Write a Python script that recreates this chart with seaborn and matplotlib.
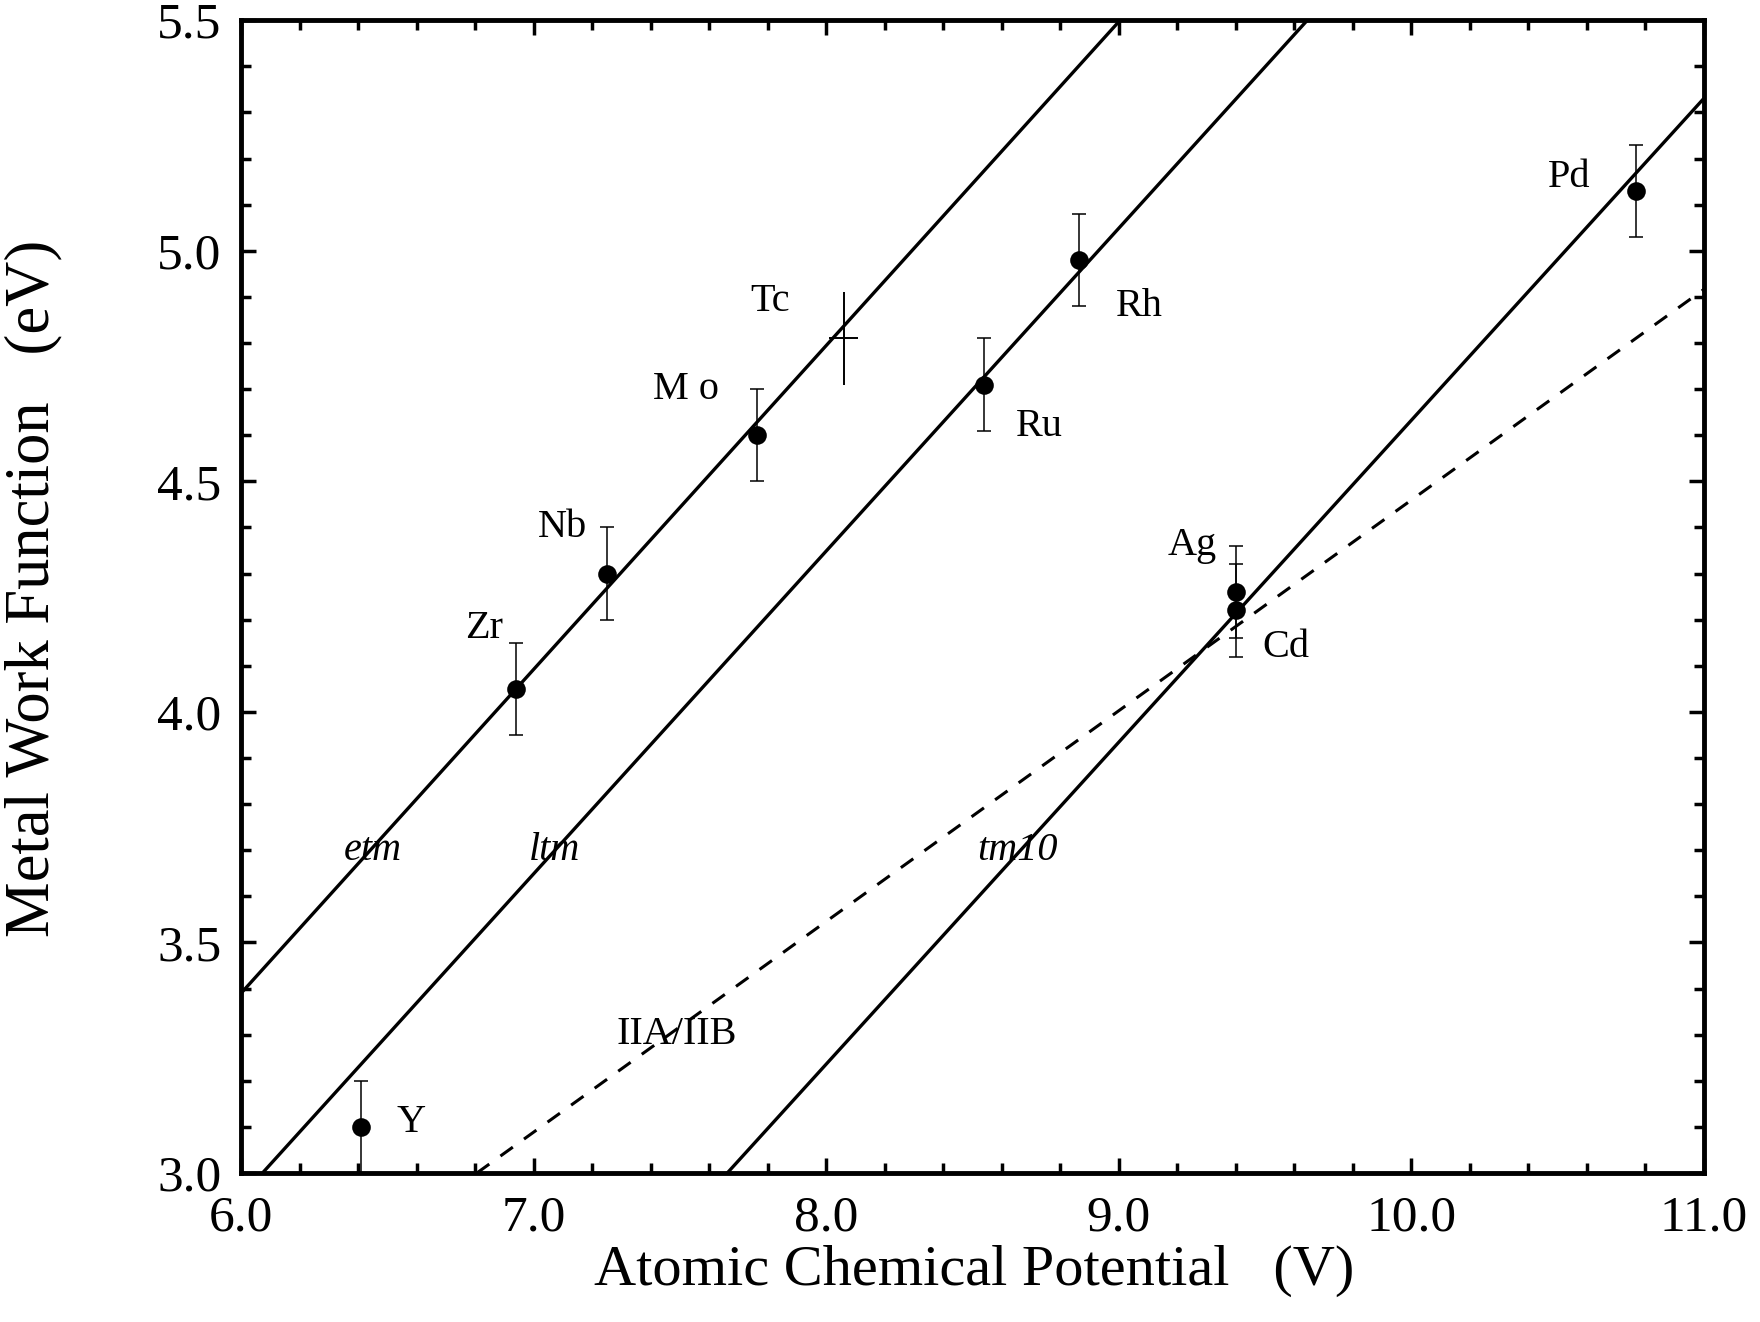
import numpy as np
import pandas as pd
import matplotlib
matplotlib.use("Agg")
import matplotlib.pyplot as plt
import seaborn as sns
from matplotlib.ticker import MultipleLocator, FormatStrFormatter

# element points
elements = ["Y", "Zr", "Nb", "Mo", "Ru", "Rh", "Ag", "Cd", "Pd"]
chem_pot = [6.41, 6.94, 7.25, 7.765, 8.54, 8.865, 9.40, 9.40, 10.77]
work_fn = [3.10, 4.05, 4.30, 4.60, 4.71, 4.98, 4.26, 4.22, 5.13]
err = [0.1, 0.1, 0.1, 0.1, 0.1, 0.1, 0.1, 0.1, 0.1]

# Tc is drawn as a cross (estimated value)
tc_x, tc_y, tc_err = 8.06, 4.81, 0.1

# label positions for the elements
lab_text = ["Y", "Zr", "Nb", "M o", "Tc", "Ru", "Rh", "Ag", "Cd", "Pd"]
lab_x = [6.58, 6.83, 7.10, 7.52, 7.81, 8.73, 9.07, 9.25, 9.57, 10.54]
lab_y = [3.11, 4.18, 4.40, 4.70, 4.89, 4.62, 4.88, 4.36, 4.14, 5.16]

# trend lines (end points)
etm_x, etm_y = [6.0, 9.005], [3.39, 5.5]
ltm_x, ltm_y = [6.073, 9.645], [3.0, 5.5]
tm10_x, tm10_y = [7.662, 11.0], [3.0, 5.33]
iia_x, iia_y = [6.806, 11.0], [3.0, 4.916]

line_names = ["etm", "ltm", "tm10", "IIA/IIB"]
line_lab_x = [6.45, 7.07, 8.655, 7.49]
line_lab_y = [3.70, 3.70, 3.70, 3.30]

sns.set_theme(style="ticks")
plt.rcParams['font.family'] = ['Liberation Serif', 'DejaVu Serif']
plt.rcParams['text.color'] = 'black'
plt.rcParams['axes.labelcolor'] = 'black'
plt.rcParams['xtick.color'] = 'black'
plt.rcParams['ytick.color'] = 'black'

fig = plt.figure(figsize=(17.6, 13.22), dpi=100)
ax = fig.add_axes([0.137, 0.1127, 0.831, 0.872])

lines = pd.DataFrame({
    "x": etm_x + ltm_x + tm10_x,
    "y": etm_y + ltm_y + tm10_y,
    "grp": ["etm"] * 2 + ["ltm"] * 2 + ["tm10"] * 2,
})
sns.lineplot(data=lines, x="x", y="y", units="grp", estimator=None,
             color="black", lw=2.4, ax=ax, sort=False)
ax.plot(iia_x, iia_y, color="black", lw=2.2, ls=(0, (5, 4.5)))

pts = pd.DataFrame({"x": chem_pot, "y": work_fn, "e": err, "el": elements})
ax.errorbar(pts["x"], pts["y"], yerr=pts["e"], fmt="none", ecolor="black",
            elinewidth=1.1, capsize=5, capthick=1.1)
sns.scatterplot(data=pts, x="x", y="y", color="black", s=180, edgecolor="black",
                linewidth=0, ax=ax, zorder=5)

ax.errorbar([tc_x], [tc_y], yerr=[tc_err], xerr=[0.05], fmt="none", ecolor="black",
            elinewidth=1.4, capsize=0)

for t, x, y in zip(lab_text, lab_x, lab_y):
    ax.text(x, y, t, fontsize=29, ha="center", va="center")
for i, t in enumerate(line_names):
    ax.text(line_lab_x[i], line_lab_y[i], t, fontsize=29, ha="center", va="center",
            style="normal" if t == "IIA/IIB" else "italic")

ax.set_xlim(6.0, 11.0)
ax.set_ylim(3.0, 5.5)
ax.xaxis.set_major_locator(MultipleLocator(1.0))
ax.xaxis.set_minor_locator(MultipleLocator(0.2))
ax.yaxis.set_major_locator(MultipleLocator(0.5))
ax.yaxis.set_minor_locator(MultipleLocator(0.1))
ax.xaxis.set_major_formatter(FormatStrFormatter("%.1f"))
ax.yaxis.set_major_formatter(FormatStrFormatter("%.1f"))
ax.tick_params(which="both", direction="in", top=True, right=True, color="black")
ax.tick_params(which="major", length=11, width=2.5, labelsize=37)
ax.tick_params(axis="x", which="major", pad=16)
ax.tick_params(axis="y", which="major", pad=14)
ax.tick_params(which="minor", length=7, width=2.5)
for s in ax.spines.values():
    s.set_linewidth(3.5)
    s.set_color("black")

ax.set_xlabel("Atomic Chemical Potential   (V)", fontsize=42)
ax.set_ylabel("Metal Work Function   (eV)", fontsize=45)
ax.xaxis.set_label_coords(0.501, -0.062)
ax.yaxis.set_label_coords(-0.122, 0.507)

fig.savefig("out.png", dpi=100, facecolor="white")
